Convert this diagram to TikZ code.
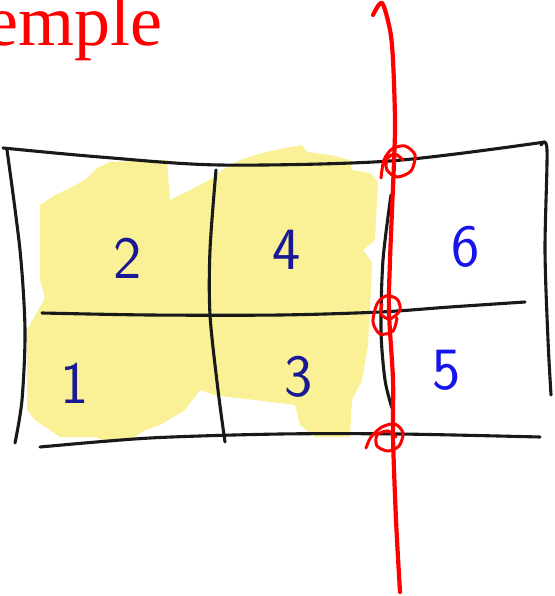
\documentclass[tikz,border=0pt]{standalone}
\usepackage{fontspec}
\setmainfont{Liberation Serif}
\usetikzlibrary{positioning}

\definecolor{marker}{RGB}{250,241,150}
\definecolor{inkdark}{RGB}{25,25,150}
\definecolor{inkblue}{RGB}{20,20,235}

\begin{document}
\begin{tikzpicture}[x=1pt, y=-1pt,
    grid/.style={draw=black!90, line width=3.1pt, line cap=round, line join=round},
    cut/.style={draw=red, line width=4.2pt, line cap=round, line join=round},
    knot/.style={draw=red, line width=3pt, line cap=round},
    num/.style={font=\fontsize{60}{60}\selectfont\sffamily, text=#1, inner sep=0pt},
    num/.default=inkdark,
    hl/.style={fill=marker, draw=none}
]
    \clip (0,0) rectangle (554,596);

    % Title (cut at the left edge)
    \node[anchor=base east, inner sep=0pt, text=red,
          font=\fontsize{72}{72}\selectfont] (title) at (163,46) {Exemple};

    % Highlighted cells 1-4
    \fill[hl] (40,205) -- (55,195) -- (70,188) -- (85,180) -- (97,168) -- (110,162)
        -- (167,160) -- (170,200) -- (190,190) -- (213,178) -- (222,170) -- (240,160)
        -- (262,153) -- (285,148) -- (302,145) -- (307,152) -- (330,155) -- (350,160)
        -- (352,170) -- (370,173) -- (378,182) -- (375,240) -- (363,250) -- (372,262)
        -- (370,310) -- (368,345) -- (362,380) -- (352,400) -- (350,437) -- (315,437)
        -- (300,425) -- (295,405) -- (255,400) -- (228,397) -- (215,395) -- (200,390)
        -- (185,410) -- (160,425) -- (145,430) -- (130,440) -- (110,443) -- (95,437)
        -- (60,437) -- (35,420) -- (27,410) -- (27,330) -- (40,307) -- (45,298)
        -- (40,280) -- cycle;

    % Outer frame
    \draw[grid] plot[smooth] coordinates {(3,148) (100,157) (220,165) (390,161) (545,142)};
    \draw[grid] plot[smooth] coordinates {(7,150) (20,250) (25,330) (22,400) (15,443)};
    \draw[grid] plot[smooth] coordinates {(40,447) (150,438) (280,434) (400,434) (540,437)};
    \draw[grid] plot[smooth] coordinates {(541,145) (547,150) (545,250) (548,340) (551,395)};

    % Inner lines
    \draw[grid] plot[smooth] coordinates {(42,313) (150,315) (280,315) (380,312) (450,307) (525,302)};
    \draw[grid] plot[smooth] coordinates {(216,170) (210,250) (210,315) (218,390) (225,442)};
    \draw[grid] plot[smooth] coordinates {(391,195) (383,260) (381,330) (385,380) (392,408)};

    % Cell numbers
    \node[num]          (c2) at (128,258) {2};
    \node[num]          (c4) at (287,250) {4};
    \node[num=inkblue]  (c6) at (466,247) {6};
    \node[num]          (c1) at (75,383)  {1};
    \node[num]          (c3) at (299,377) {3};
    \node[num=inkblue]  (c5) at (447,370) {5};

    % Cutting line
    \draw[cut] plot[smooth] coordinates {(373,15) (382,3) (390,30) (393,60) (395,120)
        (394,162) (390,260) (389,312) (393,380) (393,437) (396,520) (400,592)};

    % Crossing marks
    \draw[knot] plot[smooth] coordinates {(381,178) (384,160) (392,149) (405,146) (415,155)
        (411,171) (397,177) (387,170) (387,159) (395,154) (403,160)};
    \draw[knot] plot[smooth] coordinates {(397,318) (393,331) (380,334) (373,322) (377,304)
        (386,296) (397,299) (400,310) (390,319) (381,314) (382,304)};
    \draw[knot] plot[smooth] coordinates {(366,448) (371,437) (382,427) (395,424) (403,433)
        (399,446) (388,451) (377,446) (377,435) (388,431) (396,437)};
\end{tikzpicture}
\end{document}
